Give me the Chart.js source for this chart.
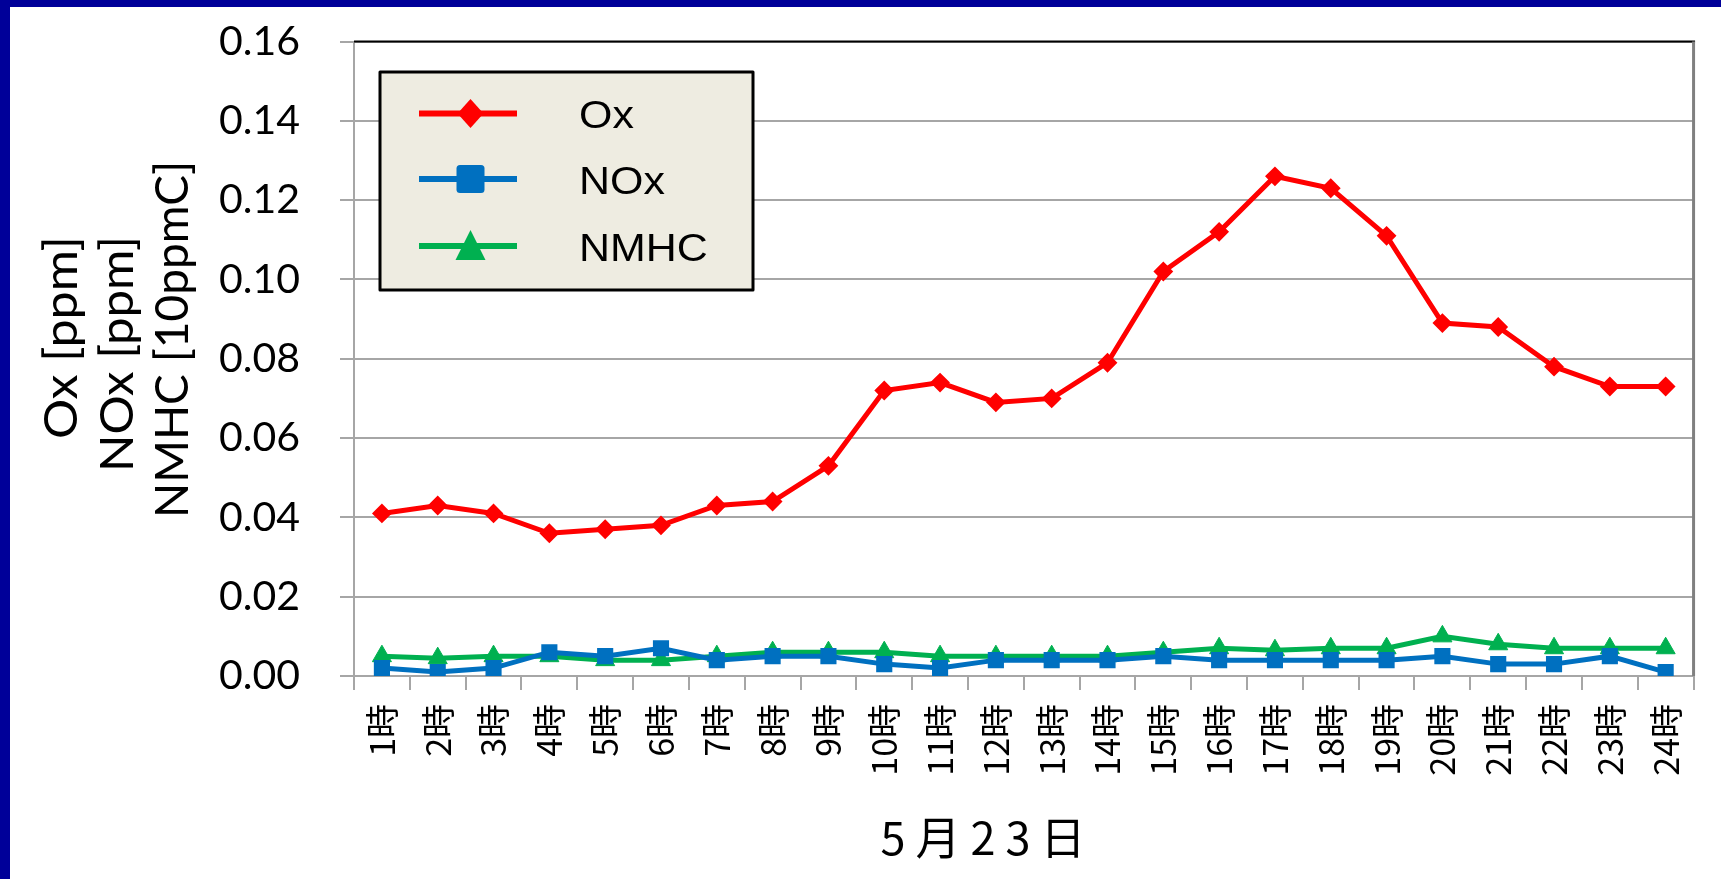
<!DOCTYPE html>
<html><head><meta charset="utf-8">
<script src="https://cdn.jsdelivr.net/npm/chart.js"></script>
<style>
html,body{margin:0;padding:0;background:#fff;}
#wrap{position:relative;width:1721px;height:879px;overflow:hidden;background:#fff;}
#c{position:absolute;left:0;top:0;width:1721px;height:879px;}
#bt{position:absolute;left:0;top:0;width:1721px;height:7px;background:#000099;}
#bl{position:absolute;left:0;top:0;width:10px;height:879px;background:#000099;}
</style></head>
<body><div id="wrap"><canvas id="c" width="1721" height="879"></canvas><div id="bt"></div><div id="bl"></div></div>
<script>
const categories = ['1時','2時','3時','4時','5時','6時','7時','8時','9時','10時','11時','12時',
  '13時','14時','15時','16時','17時','18時','19時','20時','21時','22時','23時','24時'];
const oxValues = [0.041,0.043,0.041,0.036,0.037,0.038,0.043,0.044,0.053,0.072,0.074,0.069,
  0.070,0.079,0.102,0.112,0.126,0.123,0.111,0.089,0.088,0.078,0.073,0.073];
const noxValues = [0.002,0.001,0.002,0.006,0.005,0.007,0.004,0.005,0.005,0.003,0.002,0.004,
  0.004,0.004,0.005,0.004,0.004,0.004,0.004,0.005,0.003,0.003,0.005,0.001];
const nmhcValues = [0.005,0.0045,0.005,0.005,0.004,0.004,0.005,0.006,0.006,0.006,0.005,0.005,
  0.005,0.005,0.006,0.007,0.0065,0.007,0.007,0.010,0.008,0.007,0.007,0.007];
const seriesLabels = ['Ox','NOx','NMHC'];
const yTickLabels = ['0.00','0.02','0.04','0.06','0.08','0.10','0.12','0.14','0.16'];
const yTitleLines = ['Ox [ppm]','NOx [ppm]','NMHC [10ppmC]'];
const xTitleText = '5月23日';

function drawLegendMarker(ctx, style, x, y) {
  ctx.beginPath();
  if (style === 'rectRot') {
    ctx.moveTo(x, y - 14.5); ctx.lineTo(x + 13, y); ctx.lineTo(x, y + 14.5); ctx.lineTo(x - 13, y);
    ctx.closePath();
  } else if (style === 'rect') {
    const h = 14, r = 3.5;
    ctx.moveTo(x - h + r, y - h);
    ctx.arcTo(x + h, y - h, x + h, y + h, r);
    ctx.arcTo(x + h, y + h, x - h, y + h, r);
    ctx.arcTo(x - h, y + h, x - h, y - h, r);
    ctx.arcTo(x - h, y - h, x + h, y - h, r);
    ctx.closePath();
  } else {
    ctx.moveTo(x, y - 16); ctx.lineTo(x + 15, y + 14); ctx.lineTo(x - 15, y + 14);
    ctx.closePath();
  }
  ctx.fill();
}

const decorPlugin = {
  id: 'decor',
  afterDraw(chart) {
    const ctx = chart.ctx;
    const a = chart.chartArea;
    ctx.save();
    // plot area border (top dark, right gray)
    ctx.strokeStyle = '#000000'; ctx.lineWidth = 2;
    ctx.beginPath(); ctx.moveTo(a.left, a.top); ctx.lineTo(a.right + 1.5, a.top); ctx.stroke();
    ctx.strokeStyle = '#808080'; ctx.lineWidth = 3;
    ctx.beginPath(); ctx.moveTo(a.right, a.top); ctx.lineTo(a.right, a.bottom); ctx.stroke();

    // y-axis title (three rotated lines)
    ctx.fillStyle = '#000';
    let fs = 48;
    ctx.font = fs + 'px Lato';
    const w = ctx.measureText(yTitleLines[2]).width;
    fs = fs * 357 / w;
    ctx.font = fs + 'px Lato';
    ctx.textAlign = 'left'; ctx.textBaseline = 'alphabetic';
    const cx = [60, 116.5, 171];
    const sy = [439, 472, 518];
    const lens = [203, 236, 357];
    yTitleLines.forEach((t, i) => {
      const tw = ctx.measureText(t).width;
      ctx.save();
      ctx.translate(cx[i] + fs * 0.36, sy[i]);
      ctx.rotate(-Math.PI / 2);
      ctx.scale(lens[i] / tw, 1);
      ctx.fillText(t, 0, 0);
      ctx.restore();
    });

    // x-axis title
    ctx.font = '45px "Noto Sans CJK JP"';
    try { ctx.letterSpacing = '10px'; } catch (e) {}
    ctx.textAlign = 'center'; ctx.textBaseline = 'middle';
    ctx.fillText(xTitleText, 988, 838);
    try { ctx.letterSpacing = '0px'; } catch (e) {}

    // legend box
    ctx.fillStyle = '#EEECE1';
    ctx.fillRect(380, 72, 373, 218);
    ctx.strokeStyle = '#000'; ctx.lineWidth = 3; ctx.lineJoin = 'round';
    ctx.strokeRect(380, 72, 373, 218);
    const rows = [113.5, 179, 246];
    chart.data.datasets.forEach((ds, i) => {
      const y = rows[i];
      ctx.strokeStyle = ds.borderColor; ctx.lineWidth = 6; ctx.lineCap = 'butt';
      ctx.beginPath(); ctx.moveTo(419, y); ctx.lineTo(517, y); ctx.stroke();
      ctx.fillStyle = ds.backgroundColor;
      drawLegendMarker(ctx, ds.pointStyle, 470.5, y);
      ctx.fillStyle = '#000';
      ctx.font = '38px "Liberation Sans"';
      ctx.textAlign = 'left'; ctx.textBaseline = 'alphabetic';
      ctx.save();
      ctx.translate(579, y + 14.5);
      ctx.scale(1.13, 1);
      ctx.fillText(ds.label, 0, 0);
      ctx.restore();
    });
    ctx.restore();
  }
};

function build() {
  new Chart(document.getElementById('c'), {
    type: 'line',
    data: {
      labels: categories,
      datasets: [
        { label: seriesLabels[0], data: oxValues, borderColor: '#FF0000', backgroundColor: '#FF0000',
          borderWidth: 5, pointStyle: 'rectRot', pointRadius: 8.5, pointBorderWidth: 2,
          pointBorderColor: '#FF0000', pointBackgroundColor: '#FF0000', tension: 0 },
        { label: seriesLabels[1], data: noxValues, borderColor: '#0070C0', backgroundColor: '#0070C0',
          borderWidth: 5, pointStyle: 'rect', pointRadius: 10, pointBorderWidth: 2,
          pointBorderColor: '#0070C0', pointBackgroundColor: '#0070C0', tension: 0 },
        { label: seriesLabels[2], data: nmhcValues, borderColor: '#00B050', backgroundColor: '#00B050',
          borderWidth: 5, pointStyle: 'triangle', pointRadius: 11, pointBorderWidth: 1,
          pointBorderColor: '#00B050', pointBackgroundColor: '#00B050', tension: 0 }
      ]
    },
    options: {
      responsive: false,
      animation: false,
      devicePixelRatio: 1,
      layout: { padding: { top: 41.5, right: 26, left: 0, bottom: 0 } },
      plugins: { legend: { display: false }, tooltip: { enabled: false }, title: { display: false } },
      scales: {
        x: {
          type: 'category',
          offset: true,
          grid: { display: true, offset: true, drawOnChartArea: false, drawTicks: true,
                  tickLength: 14, color: '#A6A6A6', lineWidth: 2 },
          border: { display: true, color: '#A6A6A6', width: 2 },
          ticks: { autoSkip: false, minRotation: 90, maxRotation: 90, padding: 14, color: '#000',
                   font: { family: '"Noto Sans CJK JP"', size: 34 } },
          afterFit(scale) { scale.height = 203; }
        },
        y: {
          min: 0, max: 0.16,
          grid: { color: '#A6A6A6', lineWidth: 2, drawTicks: true, tickLength: 14 },
          border: { display: true, color: '#A6A6A6', width: 2 },
          ticks: { stepSize: 0.02, padding: 40, color: '#000', font: { family: 'Lato', size: 41 },
                   callback: (v, i) => yTickLabels[i] },
          afterFit(scale) { scale.width = 354; scale.paddingTop = 0; scale.paddingBottom = 0; }
        }
      }
    },
    plugins: [decorPlugin]
  });
}

Promise.all([
  document.fonts.load('40px Lato'),
  document.fonts.load('34px "Noto Sans CJK JP"'),
  document.fonts.load('38px "Liberation Sans"')
]).then(build, build);
</script>
</body></html>
